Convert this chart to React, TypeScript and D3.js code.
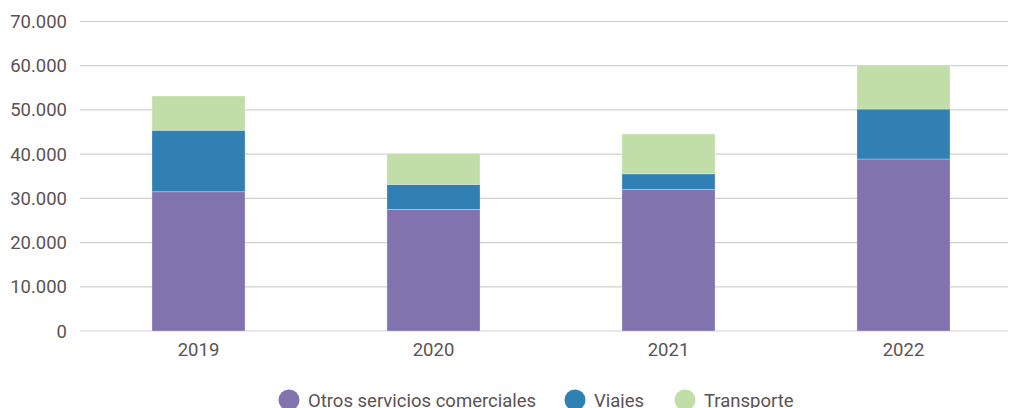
import React from "react";
import * as d3 from "d3";

const years = ["2019", "2020", "2021", "2022"];
const otros = [31500, 27500, 32000, 38900];
const viajes = [13900, 5650, 3550, 11300];
const transporte = [7750, 7000, 9000, 9950];
const seriesNames = ["Otros servicios comerciales", "Viajes", "Transporte"];
const seriesColors = ["#8073ae", "#3180b3", "#c1dea8"];
const yTicks = [0, 10000, 20000, 30000, 40000, 50000, 60000, 70000];

const W = 1009;
const H = 408;
const TEXT = "#5b5252";
const FONT = "Roboto, 'Noto Sans', sans-serif";

export default function App() {
  const x = d3.scaleBand<string>().domain(years).range([81, 1021]).paddingInner(0.604).paddingOuter(0.302);
  const y = d3.scaleLinear().domain([0, 70000]).range([331, 21.5]);
  const fmt = d3.formatLocale({ decimal: ",", thousands: ".", grouping: [3], currency: ["", "€"] }).format(",d");

  const rows = years.map((yr, i) => ({ year: yr, otros: otros[i], viajes: viajes[i], transporte: transporte[i] }));
  const stack = d3.stack<any>().keys(["otros", "viajes", "transporte"]);
  const stacked = stack(rows);

  const legendX = [289, 575, 685];

  return (
    <svg width={W} height={H} style={{ position: "absolute", left: 0, top: 0 }} fontFamily={FONT}>
      <rect width={W} height={H} fill="#fff" />
      {yTicks.map((t) => (
        <g key={t}>
          <line x1={80} x2={1008} y1={y(t)} y2={y(t)} stroke="#d0d0d0" strokeWidth={1.2} />
          <text x={67} y={y(t) + 6.5} textAnchor="end" fontSize={18.5} fill={TEXT}>
            {fmt(t)}
          </text>
        </g>
      ))}
      {stacked.map((s, si) => (
        <g key={si} fill={seriesColors[si]}>
          {s.map((d, i) => (
            <rect
              key={i}
              x={x(years[i])!}
              width={x.bandwidth()}
              y={y(d[1])}
              height={y(d[0]) - y(d[1])}
              stroke="#ffffff"
              strokeOpacity={0.35}
              strokeWidth={0.8}
            />
          ))}
        </g>
      ))}
      {years.map((yr) => (
        <text key={yr} x={x(yr)! + x.bandwidth() / 2} y={356} textAnchor="middle" fontSize={18.5} fill={TEXT}>
          {yr}
        </text>
      ))}
      {seriesNames.map((n, i) => (
        <g key={n}>
          <circle cx={legendX[i]} cy={400} r={10.5} fill={seriesColors[i]} />
          <text x={legendX[i] + 19} y={407} fontSize={18.5} fill={TEXT}>
            {n}
          </text>
        </g>
      ))}
    </svg>
  );
}
